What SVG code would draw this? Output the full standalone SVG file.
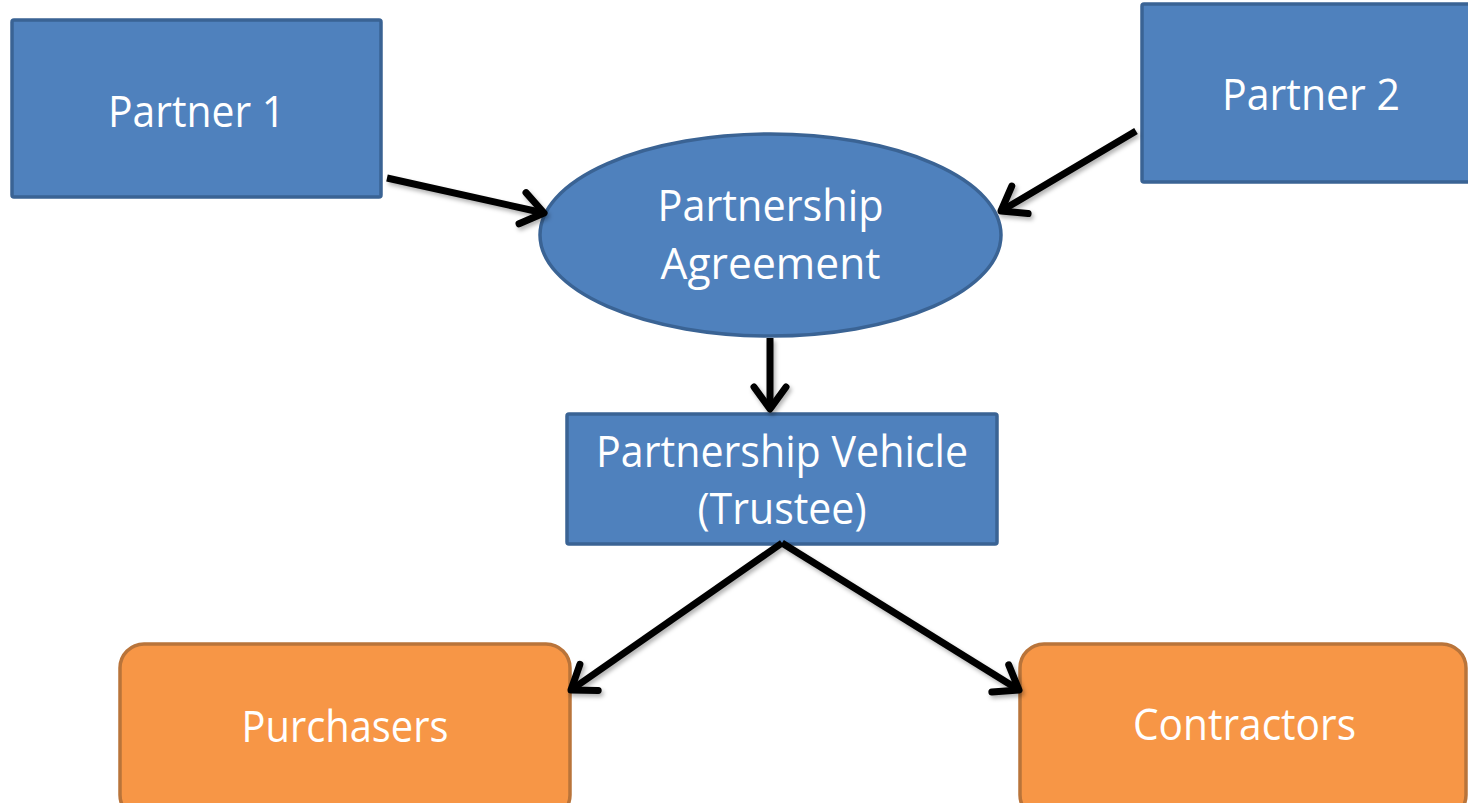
<svg xmlns="http://www.w3.org/2000/svg" width="1468" height="803" viewBox="0 0 1468 803">
  <style>
    .blue { fill: #4F81BD; stroke: #3A6394; stroke-width: 3.5; }
    .orange { fill: #F79646; stroke: #B9743A; stroke-width: 3.5; }
    .label { font-family: "Open Sans", "Noto Sans", sans-serif; font-size: 44px; fill: #FFFFFF; text-anchor: middle; }
    .conn { fill: none; stroke: #000000; stroke-width: 7; stroke-linecap: butt; }
  </style>
  <defs>
    <marker id="chevron" markerUnits="userSpaceOnUse" markerWidth="60" markerHeight="60" refX="0" refY="0" viewBox="-30 -30 60 60" orient="auto" overflow="visible">
      <path d="M -22 -16 L 0 0 L -22 16" fill="none" stroke="#000000" stroke-width="7" stroke-linecap="round" stroke-linejoin="round"/>
    </marker>
    <filter id="shadow" x="-20%" y="-20%" width="140%" height="140%">
      <feDropShadow dx="2" dy="3" stdDeviation="2" flood-color="#000000" flood-opacity="0.3"/>
    </filter>
  </defs>

  <rect width="1468" height="803" fill="#FFFFFF"/>

  <g id="partner1">
    <rect class="blue" x="12" y="20" width="369" height="177" rx="2"/>
    <text class="label" x="196.5" y="127" textLength="177" lengthAdjust="spacingAndGlyphs">Partner 1</text>
  </g>

  <g id="partner2">
    <rect class="blue" x="1142" y="4" width="340" height="178" rx="2"/>
    <text class="label" x="1311" y="110" textLength="178" lengthAdjust="spacingAndGlyphs">Partner 2</text>
  </g>

  <g id="agreement">
    <ellipse class="blue" cx="770.5" cy="235" rx="230.5" ry="101"/>
    <text class="label" x="770.5" y="221" textLength="226" lengthAdjust="spacingAndGlyphs">Partnership</text>
    <text class="label" x="770.5" y="279" textLength="220" lengthAdjust="spacingAndGlyphs">Agreement</text>
  </g>

  <g id="vehicle">
    <rect class="blue" x="567" y="414" width="430" height="130" rx="2"/>
    <text class="label" x="782" y="467" textLength="372" lengthAdjust="spacingAndGlyphs">Partnership Vehicle</text>
    <text class="label" x="782" y="524" textLength="169" lengthAdjust="spacingAndGlyphs">(Trustee)</text>
  </g>

  <g id="purchasers">
    <rect class="orange" x="120" y="644" width="450" height="175" rx="24"/>
    <text class="label" x="345" y="742" textLength="207" lengthAdjust="spacingAndGlyphs">Purchasers</text>
  </g>

  <g id="contractors">
    <rect class="orange" x="1020" y="644" width="446" height="175" rx="24"/>
    <text class="label" x="1244.5" y="740" textLength="223" lengthAdjust="spacingAndGlyphs">Contractors</text>
  </g>

  <g id="connectors" filter="url(#shadow)">
    <path class="conn" d="M 387 178 L 544 213" marker-end="url(#chevron)"/>
    <path class="conn" d="M 1136 131 L 1001 211" marker-end="url(#chevron)"/>
    <path class="conn" d="M 770 338 L 770 409" marker-end="url(#chevron)"/>
    <path class="conn" d="M 782 543 L 571 690" marker-end="url(#chevron)"/>
    <path class="conn" d="M 782 543 L 1019 690" marker-end="url(#chevron)"/>
  </g>
</svg>
